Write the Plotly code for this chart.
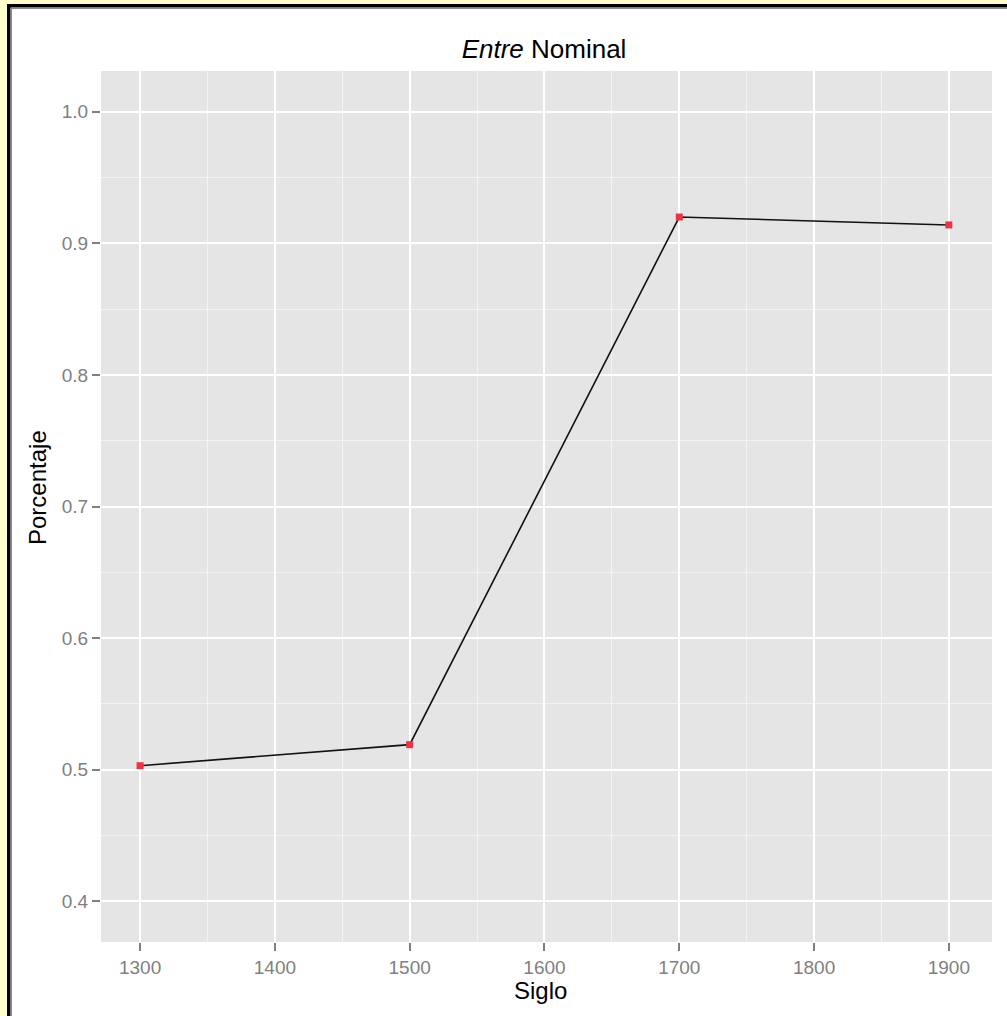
import plotly.graph_objects as go

siglo = [1300, 1500, 1700, 1900]
porcentaje = [0.503, 0.519, 0.920, 0.914]
x_ticks = [1300, 1400, 1500, 1600, 1700, 1800, 1900]
y_ticks = [0.4, 0.5, 0.6, 0.7, 0.8, 0.9, 1.0]
y_tick_labels = ["0.4", "0.5", "0.6", "0.7", "0.8", "0.9", "1.0"]

W, H = 1007, 1016
L, R, T, B = 101, 15, 71, 74
PW, PH = W - L - R, H - T - B

def px(x):
    return (x - L) / PW

def py(y):
    return (H - B - y) / PH

FONT = "Liberation Sans, Arial, Helvetica, sans-serif"

fig = go.Figure()
fig.add_trace(go.Scatter(
    x=siglo, y=porcentaje, mode="lines",
    line=dict(color="#111111", width=1.6), showlegend=False, hoverinfo="skip"))
fig.add_trace(go.Scatter(
    x=siglo, y=porcentaje, mode="markers",
    marker=dict(symbol="square", size=7, color="#EE3344", line=dict(width=0)),
    showlegend=False))

shapes = [
    dict(type="rect", xref="paper", yref="paper", x0=px(0), x1=px(7), y0=py(1016), y1=py(0),
         fillcolor="#FFFFCC", line=dict(width=0), layer="above"),
    dict(type="rect", xref="paper", yref="paper", x0=px(0), x1=px(1007), y0=py(4), y1=py(0),
         fillcolor="#FFFFCC", line=dict(width=0), layer="above"),
    dict(type="rect", xref="paper", yref="paper", x0=px(7), x1=px(10.5), y0=py(1016), y1=py(4),
         fillcolor="#000000", line=dict(width=0), layer="above"),
    dict(type="rect", xref="paper", yref="paper", x0=px(7), x1=px(1007), y0=py(7.5), y1=py(4),
         fillcolor="#000000", line=dict(width=0), layer="above"),
    dict(type="rect", xref="paper", yref="paper", x0=px(11), x1=px(12), y0=py(1016), y1=py(8),
         fillcolor="#888888", line=dict(width=0), layer="above"),
    dict(type="rect", xref="paper", yref="paper", x0=px(11), x1=px(1007), y0=py(9), y1=py(8),
         fillcolor="#888888", line=dict(width=0), layer="above"),
]

annotations = [
    dict(text="Siglo", xref="paper", yref="paper", x=px(540), y=py(991),
         xanchor="center", yanchor="middle", showarrow=False,
         font=dict(size=24, color="#000000", family=FONT)),
    dict(text="Porcentaje", xref="paper", yref="paper", x=px(37), y=py(488),
         xanchor="center", yanchor="middle", showarrow=False, textangle=-90,
         font=dict(size=24, color="#000000", family=FONT)),
]

fig.update_layout(
    width=W, height=H,
    margin=dict(l=L, r=R, t=T, b=B, autoexpand=False),
    paper_bgcolor="white",
    plot_bgcolor="#E5E5E5",
    font=dict(family=FONT),
    shapes=shapes,
    annotations=annotations,
    title=dict(text="<i>Entre</i> Nominal", x=544 / W, xref="container", xanchor="center",
               y=1 - 49 / H, yref="container", yanchor="middle",
               font=dict(size=26, color="#000000", family=FONT)),
    xaxis=dict(
        range=[1271, 1932], tickvals=x_ticks, ticktext=[str(v) for v in x_ticks],
        showgrid=True, gridcolor="#FFFFFF", gridwidth=2,
        minor=dict(dtick=50, tick0=1250, showgrid=True, gridcolor="#F3F3F3", gridwidth=1.2),
        ticks="outside", ticklen=8, tickwidth=1.5, tickcolor="#7F7F7F",
        tickfont=dict(size=19, color="#7F7F7F", family=FONT),
        zeroline=False, showline=False,
    ),
    yaxis=dict(
        range=[0.369, 1.031], tickvals=y_ticks, ticktext=y_tick_labels,
        showgrid=True, gridcolor="#FFFFFF", gridwidth=2,
        minor=dict(dtick=0.05, tick0=0.35, showgrid=True, gridcolor="#F3F3F3", gridwidth=1.2),
        ticks="outside", ticklen=8, tickwidth=1.5, tickcolor="#7F7F7F",
        tickfont=dict(size=19, color="#7F7F7F", family=FONT),
        zeroline=False, showline=False,
    ),
)

fig.write_html("out.html", config={"displayModeBar": False},
               post_script="document.body.style.margin='0px';document.body.style.overflow='hidden';")
